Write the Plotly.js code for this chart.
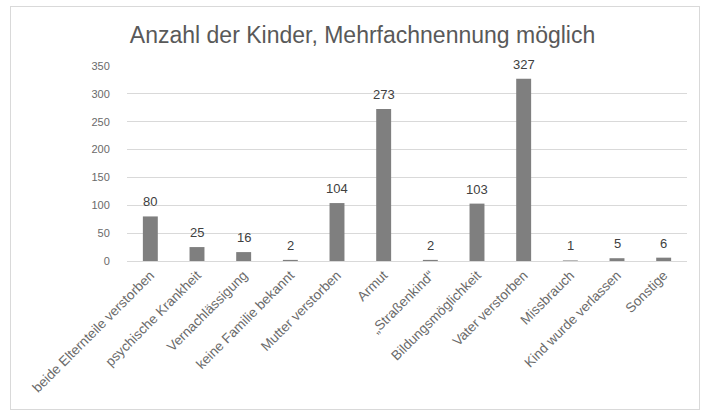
<!DOCTYPE html>
<html>
<head>
<meta charset="utf-8">
<script src="https://cdn.plot.ly/plotly-3.0.1.min.js"></script>
<style>
html,body{margin:0;padding:0;background:#fff;}
#wrap{position:relative;width:704px;height:411px;}
#chart{width:704px;height:411px;}
#frame{position:absolute;left:10px;top:6px;width:688px;height:402px;border:1px solid #d9d9d9;pointer-events:none;}
</style>
</head>
<body>
<div id="wrap"><div id="chart"></div><div id="frame"></div></div>
<script>
const categories = ["beide Elternteile verstorben", "psychische Krankheit", "Vernachlässigung", "keine Familie bekannt", "Mutter verstorben", "Armut", "„Straßenkind“", "Bildungsmöglichkeit", "Vater verstorben", "Missbrauch", "Kind wurde verlassen", "Sonstige"];
const values = [80, 25, 16, 2, 104, 273, 2, 103, 327, 1, 5, 6];
const yTicks = [0, 50, 100, 150, 200, 250, 300, 350];
const chartTitle = "Anzahl der Kinder, Mehrfachnennung möglich";

const FONT = 'Liberation Sans, Arial, sans-serif';

const trace = {
  type: 'bar',
  x: categories,
  y: values,
  marker: {color: '#7f7f7f'},
  hoverinfo: 'none'
};

const annotations = categories.map((c, i) => ({
  x: c, y: values[i], xref: 'x', yref: 'y',
  text: String(values[i]), showarrow: false,
  yanchor: 'bottom', yshift: 5,
  font: {family: FONT, size: 13, color: '#404040'}
}));

const layout = {
  width: 704, height: 411,
  margin: {l: 127, r: 17, t: 66, b: 150},
  paper_bgcolor: '#fff', plot_bgcolor: '#fff',
  bargap: 0.68,
  showlegend: false,
  annotations: annotations,
  title: {text: chartTitle, x: 0.515, xanchor: 'center', y: 0.915, yanchor: 'middle',
          font: {family: FONT, size: 23, color: '#595959'}},
  xaxis: {
    type: 'category',
    tickangle: -45,
    tickfont: {family: FONT, size: 13.6, color: '#6a6a6a'},
    showline: true, linecolor: '#d9d9d9', linewidth: 1,
    ticks: '', showgrid: false
  },
  yaxis: {
    range: [0, 350],
    tickvals: yTicks,
    ticktext: yTicks.map(String),
    tickfont: {family: FONT, size: 11, color: '#6a6a6a'},
    gridcolor: '#d9d9d9', gridwidth: 1,
    zeroline: false,
    ticks: 'outside', ticklen: 14, tickcolor: 'rgba(0,0,0,0)',
    showline: false
  }
};

Plotly.newPlot('chart', [trace], layout, {staticPlot: true});
</script>
</body>
</html>
